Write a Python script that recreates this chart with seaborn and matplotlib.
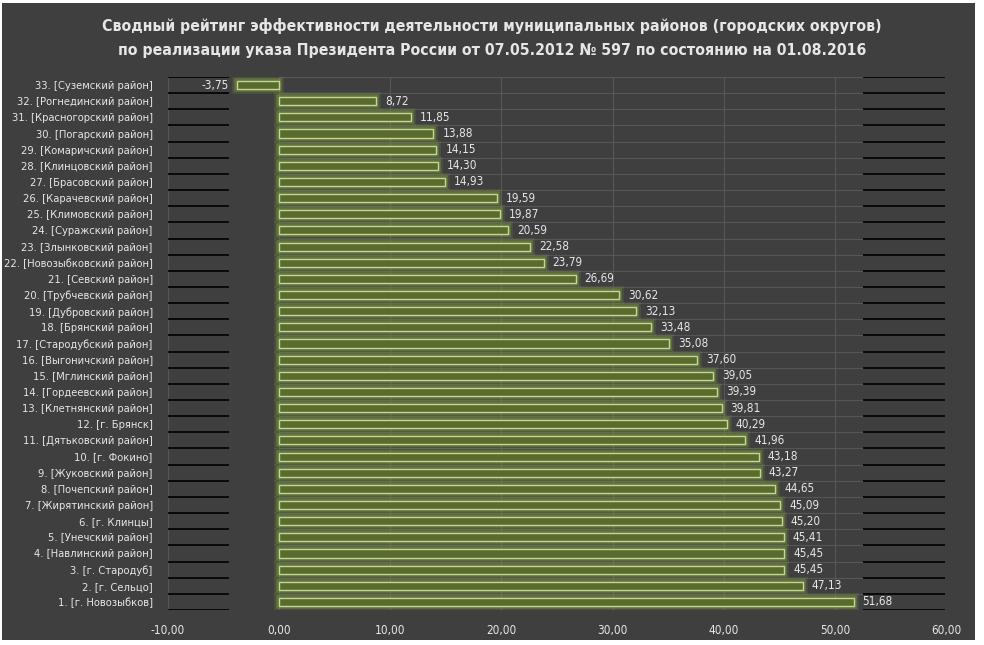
import numpy as np
import pandas as pd
import matplotlib
matplotlib.use("Agg")
import matplotlib.pyplot as plt
import matplotlib.patheffects as pe
from matplotlib.patches import Rectangle
import seaborn as sns

# data, top row first
districts = [
    "33. [Суземский район]", "32. [Рогнединский район]", "31. [Красногорский район]",
    "30. [Погарский район]", "29. [Комаричский район]", "28. [Клинцовский район]",
    "27. [Брасовский район]", "26. [Карачевский район]", "25. [Климовский район]",
    "24. [Суражский район]", "23. [Злынковский район]", "22. [Новозыбковский район]",
    "21. [Севский район]", "20. [Трубчевский район]", "19. [Дубровский район]",
    "18. [Брянский район]", "17. [Стародубский район]", "16. [Выгоничский район]",
    "15. [Мглинский район]", "14. [Гордеевский район]", "13. [Клетнянский район]",
    "12. [г. Брянск]", "11. [Дятьковский район]", "10. [г. Фокино]",
    "9. [Жуковский район]", "8. [Почепский район]", "7. [Жирятинский район]",
    "6. [г. Клинцы]", "5. [Унечский район]", "4. [Навлинский район]",
    "3. [г. Стародуб]", "2. [г. Сельцо]", "1. [г. Новозыбков]",
]
scores = [
    -3.75, 8.72, 11.85, 13.88, 14.15, 14.30, 14.93, 19.59, 19.87, 20.59, 22.58,
    23.79, 26.69, 30.62, 32.13, 33.48, 35.08, 37.60, 39.05, 39.39, 39.81, 40.29,
    41.96, 43.18, 43.27, 44.65, 45.09, 45.20, 45.41, 45.45, 45.45, 47.13, 51.68,
]
x_ticks = [-10, 0, 10, 20, 30, 40, 50, 60]

df = pd.DataFrame({"district": districts, "score": scores})

BG = "#3f3f3f"
TXT = "#e6e6e6"
GRID = "#565656"

sns.set_theme(style="dark")
plt.rcParams["font.family"] = ["DejaVu Sans"]
plt.rcParams["font.stretch"] = "condensed"

fig = plt.figure(figsize=(9.84, 6.45), dpi=100, facecolor="white")
fig.patches.append(Rectangle((2 / 984, 5 / 645), 973 / 984, 637 / 645,
                             transform=fig.transFigure,
                             facecolor=BG, edgecolor="none", zorder=-10))
ax = fig.add_axes([168 / 984, 1 - 610 / 645, (946 - 168) / 984, (610 - 77) / 645])
ax.set_facecolor(BG)

sns.barplot(data=df, x="score", y="district", orient="h", ax=ax,
            color="#596b2f", edgecolor="#c2d98e", linewidth=1.0,
            width=0.5, saturation=1)

# soft green glow round each bar
glow = [pe.Stroke(linewidth=7, foreground="#8fb43c", alpha=0.15),
        pe.Stroke(linewidth=4, foreground="#9cc248", alpha=0.3),
        pe.Normal()]
for p in ax.patches:
    p.set_path_effects(glow)
    p.set_zorder(3)

# value labels
for i, v in enumerate(scores):
    txt = f"{v:.2f}".replace(".", ",")
    if v < 0:
        ax.text(v - 0.8, i, txt, ha="right", va="center", color=TXT, fontsize=8.5)
    else:
        ax.text(v + 0.8, i, txt, ha="left", va="center", color=TXT, fontsize=8.5)

n = len(districts)
ax.set_xlim(-10, 60)
ax.set_ylim(n - 0.5, -0.5)
ax.set_xticks(x_ticks)
ax.set_xticklabels([f"{t:.2f}".replace(".", ",") for t in x_ticks])
ax.tick_params(axis="x", colors=TXT, labelsize=8.5, length=0, pad=10)
ax.tick_params(axis="y", colors=TXT, labelsize=8, length=0, pad=11)
ax.set_xlabel("")
ax.set_ylabel("")

# gridlines: vertical at ticks, horizontal between rows
for t in x_ticks:
    ax.axvline(t, color=GRID, lw=0.8, zorder=0)
bounds = np.arange(-0.5, n, 1.0)
ax.hlines(bounds, 0, 52.5, color=GRID, lw=0.8, zorder=0)
ax.hlines(bounds, -10, -4.5, color="black", lw=1.2, zorder=1)
ax.hlines(bounds, 52.5, 59.9, color="black", lw=1.2, zorder=1)
for s in ax.spines.values():
    s.set_visible(False)

fig.text(0.5, 1 - 26 / 645,
         "Сводный рейтинг эффективности деятельности муниципальных районов (городских округов)",
         ha="center", va="center", color=TXT, fontsize=11.3, fontweight="bold")
fig.text(0.5, 1 - 50 / 645,
         "по реализации указа Президента России от 07.05.2012 № 597 по состоянию на 01.08.2016",
         ha="center", va="center", color=TXT, fontsize=11.3, fontweight="bold")

fig.savefig("out.png", dpi=100, facecolor=fig.get_facecolor())
